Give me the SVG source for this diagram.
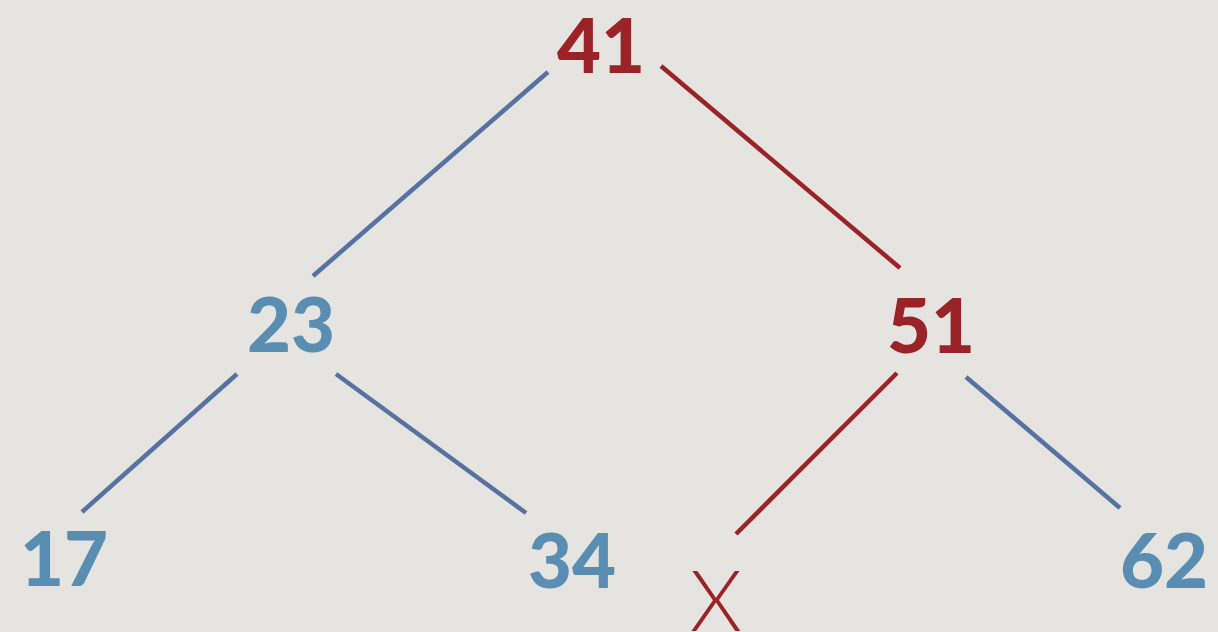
<svg xmlns="http://www.w3.org/2000/svg" width="1218" height="632" viewBox="0 0 1218 632">
<style>
.n{font-family:Lato,"Open Sans","Liberation Sans",sans-serif;font-weight:900;font-size:76px;text-anchor:middle}
.r{fill:#992326}
.b{fill:#5a8db2}
.e{stroke-width:4.5;stroke-linecap:butt;fill:none}
.er{stroke:#992326}
.eb{stroke:#5772a0}
.x{font-family:Lato,"Open Sans","Liberation Sans",sans-serif;font-weight:300;font-size:84px;text-anchor:middle;fill:#992326}
</style>
<rect width="1218" height="632" fill="#e5e4e0"/>
<g id="connectors">
<line class="e eb" x1="548" y1="72" x2="313" y2="276"/>
<line class="e er" x1="661" y1="66" x2="900" y2="268"/>
<line class="e eb" x1="237" y1="374" x2="82" y2="512"/>
<line class="e eb" x1="336" y1="374" x2="526" y2="513"/>
<line class="e er" x1="897" y1="373" x2="736" y2="534"/>
<line class="e eb" x1="966" y1="377" x2="1120" y2="508"/>
</g>
<g id="n41"><text class="n r" x="601" y="73">41</text></g>
<g id="n23"><text class="n b" x="291" y="352">23</text></g>
<g id="n51"><text class="n r" x="931" y="353">51</text></g>
<g id="n17"><text class="n b" x="64" y="586">17</text></g>
<g id="n34"><text class="n b" x="572" y="588">34</text></g>
<g id="n62"><text class="n b" x="1164" y="588">62</text></g>
<g id="nx"><text class="x" x="716" y="631">X</text></g>
</svg>
